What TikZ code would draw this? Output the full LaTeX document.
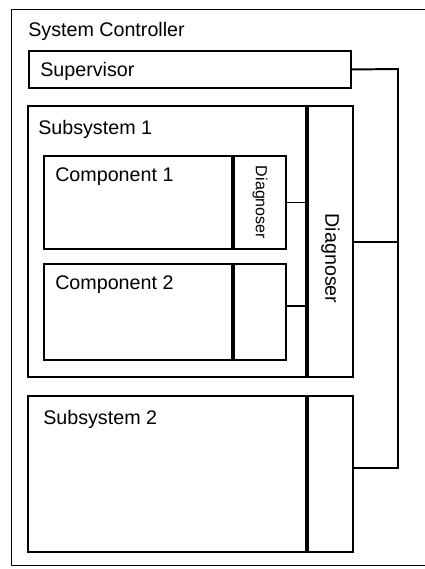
\documentclass[tikz,border=0pt]{standalone}
\usepackage{fontspec}
\setmainfont{Liberation Sans}
\usetikzlibrary{positioning}

\begin{document}
\begin{tikzpicture}[x=0.025cm, y=-0.025cm, font=\fontsize{14}{16}\selectfont,
        box/.style={draw, line width=1.4pt, inner sep=0pt, anchor=north west},
        title/.style={inner sep=0pt},
        diag/.style={inner sep=0pt, rotate=-90}]
        \useasboundingbox (0,0) rectangle (425,569);

        \node[box, line width=0.8pt, minimum width=11.5cm, minimum height=13.9cm] (ctrl) at (11,9) {};
        \node[box, minimum width=8.05cm, minimum height=0.925cm] (sup) at (28,50) {};

        \node[box, minimum width=6.95cm, minimum height=6.775cm] (sub1) at (27,105) {};
        \node[box, minimum width=1.125cm, minimum height=6.775cm, right=0pt of sub1] (sub1diag) {};

        \node[box, minimum width=4.7cm, minimum height=2.325cm] (comp1) at (43,155) {};
        \node[box, minimum width=1.3cm, minimum height=2.325cm, right=0pt of comp1] (comp1diag) {};
        \node[box, minimum width=4.7cm, minimum height=2.4cm] (comp2) at (43,263) {};
        \node[box, minimum width=1.3cm, minimum height=2.4cm, right=0pt of comp2] (comp2diag) {};

        \node[box, minimum width=6.95cm, minimum height=3.9cm] (sub2) at (27,395) {};
        \node[box, minimum width=1.125cm, minimum height=3.9cm, right=0pt of sub2] (sub2diag) {};

        \node[title, below right=0.325cm and 0.425cm of ctrl.north west] (ctrltxt) {System Controller};
        \node[title, below right=0.3cm and 0.3cm of sup.north west] (suptxt) {Supervisor};
        \node[title, below right=0.375cm and 0.275cm of sub1.north west] (sub1txt) {Subsystem 1};
        \node[title, below right=0.3cm and 0.3cm of comp1.north west] (comp1txt) {Component 1};
        \node[title, below right=0.3cm and 0.3cm of comp2.north west] (comp2txt) {Component 2};
        \node[title, below right=0.375cm and 0.4cm of sub2.north west] (sub2txt) {Subsystem 2};

        \node[diag, font=\fontsize{11.4}{13}\selectfont] (d1txt) at (comp1diag.center) {Diagnoser};
        \node[diag] (s1txt) at ([yshift=-0.425cm]sub1diag.center) {Diagnoser};

        % links to the diagnosers
        \coordinate (bustop) at (398,69);
        \coordinate (busbot) at (398,468);
        \draw[line width=1.4pt] (sup.east) -- (bustop) -- (busbot) -- (busbot -| sub2diag.east);
        \draw[line width=1.4pt] (sub1diag.east) -- (sub1diag.east -| bustop);
        \draw[line width=1.4pt] (comp1diag.east) -- (comp1diag.east -| sub1diag.west);
        \draw[line width=1.4pt] ([yshift=0.15cm]comp2diag.east) -- ([yshift=0.15cm]comp2diag.east -| sub1diag.west);
\end{tikzpicture}
\end{document}
